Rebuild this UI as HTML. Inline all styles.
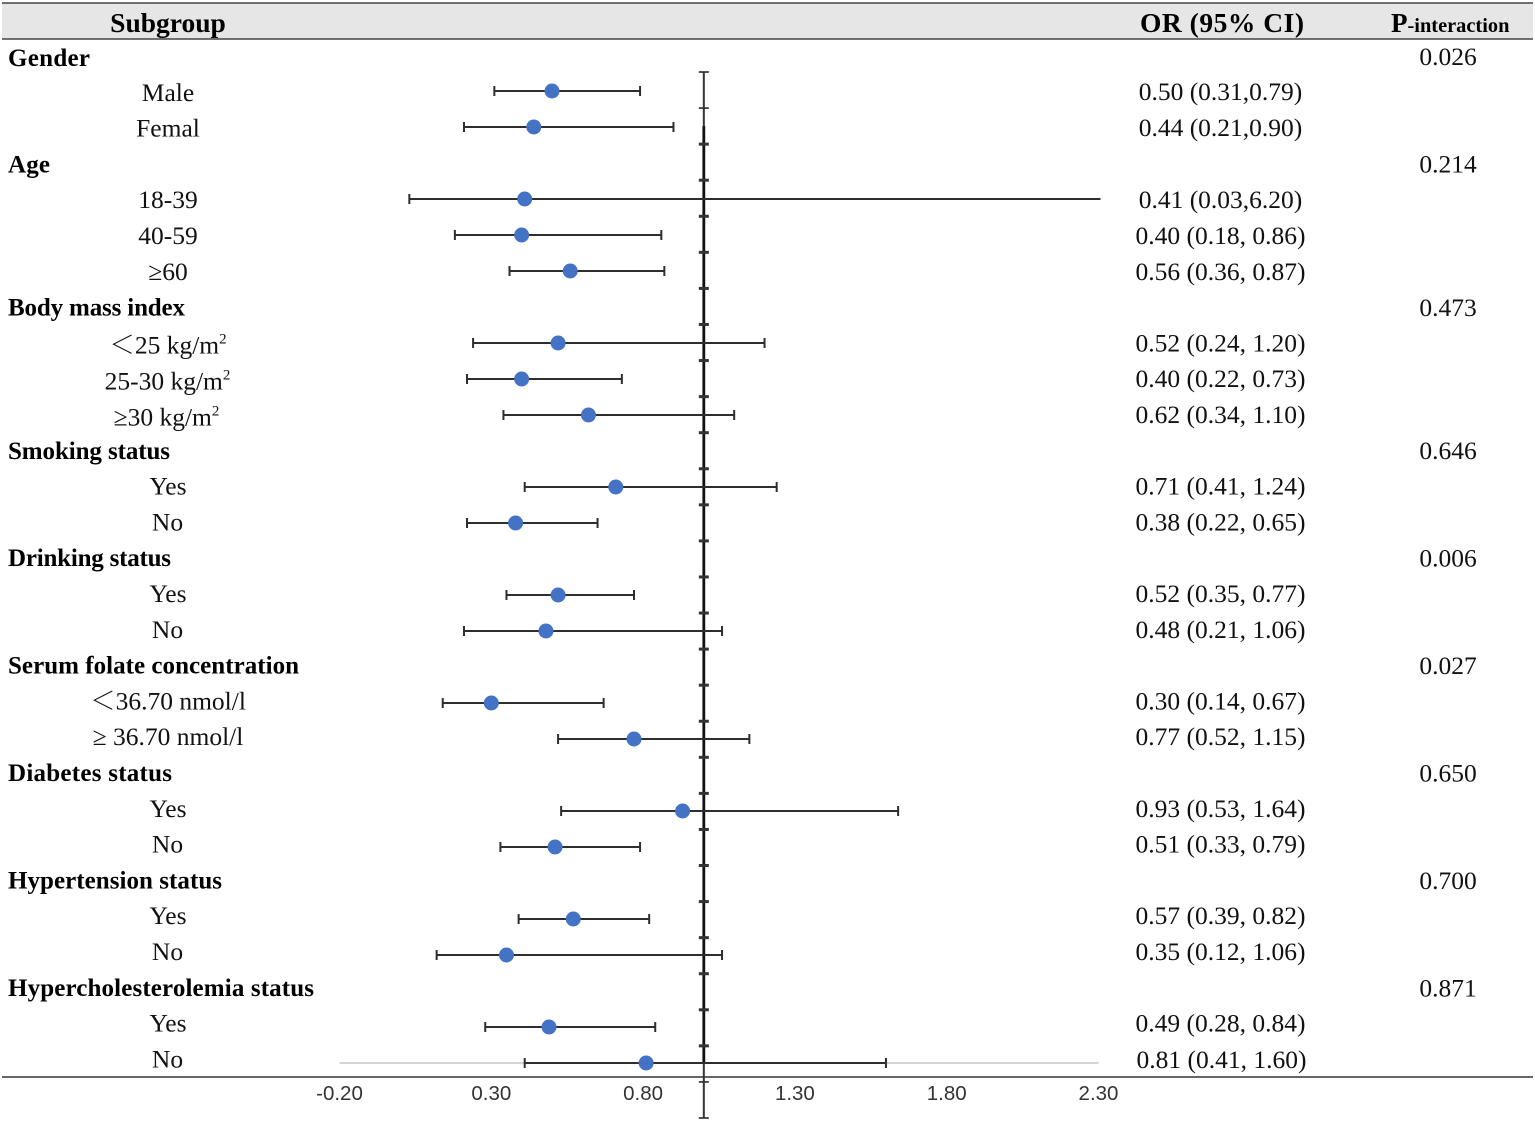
<!DOCTYPE html>
<html lang="en">
<head>
<meta charset="utf-8">
<title>Subgroup forest plot</title>
<style>
html,body{margin:0;padding:0;background:#fff;}
svg{display:block;}
text{font-family:"Liberation Serif","Noto Serif CJK SC",serif;fill:#111;font-size:25.5px;}
.g{font-weight:bold;font-size:25px;fill:#000;}
.s,.o,.p{text-anchor:middle;}
.hd{font-weight:bold;font-size:27.5px;fill:#000;}
.tick{font-family:"Liberation Sans",sans-serif;font-size:20.5px;fill:#333;text-anchor:middle;}
</style>
</head>
<body>
<svg id="chart" width="1535" height="1122" viewBox="0 0 1535 1122" xmlns="http://www.w3.org/2000/svg">
<rect x="2" y="3" width="1531" height="36" fill="#e6e6e6"/>
<line x1="2" x2="1533" y1="3" y2="3" stroke="#444" stroke-width="1.6"/>
<line x1="2" x2="1533" y1="39" y2="39" stroke="#444" stroke-width="1.4"/>
<line x1="2" x2="1533" y1="1077" y2="1077" stroke="#333" stroke-width="1.5"/>

<text class="hd" x="168" y="32" text-anchor="middle">Subgroup</text>
<text class="hd" x="1222" y="32" text-anchor="middle" textLength="164">OR (95% CI)</text>
<text x="1391" y="32" style="font-weight:bold;font-size:20.4px;fill:#000"><tspan style="font-size:27px">P</tspan>-interaction</text>

<g transform="translate(0,-1)">
<text class="g" x="8" y="67" textLength="82">Gender</text>
<text class="s" x="168" y="101.8">Male</text>
<text class="s" x="168" y="137.6">Femal</text>
<text class="g" x="8" y="173.4" textLength="42">Age</text>
<text class="s" x="168" y="209.2">18-39</text>
<text class="s" x="168" y="245">40-59</text>
<text class="s" x="168" y="280.8">≥60</text>
<text class="g" x="8" y="316.6" textLength="177">Body mass index</text>
<text class="s" x="168" y="354.5">＜25 kg/m<tspan dy="-10" style="font-size:15px">2</tspan></text>
<text class="s" x="167.5" y="390.5">25-30 kg/m<tspan dy="-10" style="font-size:15px">2</tspan></text>
<text class="s" x="166.5" y="426.5">≥30 kg/m<tspan dy="-10" style="font-size:15px">2</tspan></text>
<text class="g" x="8" y="459.8" textLength="162">Smoking status</text>
<text class="s" x="168" y="495.6">Yes</text>
<text class="s" x="167.5" y="531.4">No</text>
<text class="g" x="8" y="567.2" textLength="163">Drinking status</text>
<text class="s" x="168" y="603">Yes</text>
<text class="s" x="167.5" y="638.8">No</text>
<text class="g" x="8" y="674.6" textLength="291">Serum folate concentration</text>
<text class="s" x="168" y="710.4">＜36.70 nmol/l</text>
<text class="s" x="168" y="746.2">≥ 36.70 nmol/l</text>
<text class="g" x="8" y="782" textLength="164">Diabetes status</text>
<text class="s" x="168" y="817.8">Yes</text>
<text class="s" x="167.5" y="853.6">No</text>
<text class="g" x="8" y="889.4" textLength="214">Hypertension status</text>
<text class="s" x="168" y="925.2">Yes</text>
<text class="s" x="167.5" y="961">No</text>
<text class="g" x="8" y="996.8" textLength="306">Hypercholesterolemia status</text>
<text class="s" x="168" y="1032.6">Yes</text>
<text class="s" x="167.5" y="1068.4">No</text>
</g>

<g transform="translate(0,-1)">
<text class="o" x="1220.5" y="101">0.50 (0.31,0.79)</text>
<text class="o" x="1220.5" y="137">0.44 (0.21,0.90)</text>
<text class="o" x="1220.5" y="209">0.41 (0.03,6.20)</text>
<text class="o" x="1220.5" y="245">0.40 (0.18, 0.86)</text>
<text class="o" x="1220.5" y="280.8">0.56 (0.36, 0.87)</text>
<text class="o" x="1220.5" y="352.4">0.52 (0.24, 1.20)</text>
<text class="o" x="1220.5" y="388.2">0.40 (0.22, 0.73)</text>
<text class="o" x="1220.5" y="424">0.62 (0.34, 1.10)</text>
<text class="o" x="1220.5" y="495.6">0.71 (0.41, 1.24)</text>
<text class="o" x="1220.5" y="531.4">0.38 (0.22, 0.65)</text>
<text class="o" x="1220.5" y="603">0.52 (0.35, 0.77)</text>
<text class="o" x="1220.5" y="638.8">0.48 (0.21, 1.06)</text>
<text class="o" x="1220.5" y="710.4">0.30 (0.14, 0.67)</text>
<text class="o" x="1220.5" y="746.2">0.77 (0.52, 1.15)</text>
<text class="o" x="1220.5" y="817.8">0.93 (0.53, 1.64)</text>
<text class="o" x="1220.5" y="853.6">0.51 (0.33, 0.79)</text>
<text class="o" x="1220.5" y="925.2">0.57 (0.39, 0.82)</text>
<text class="o" x="1220.5" y="961">0.35 (0.12, 1.06)</text>
<text class="o" x="1220.5" y="1032.6">0.49 (0.28, 0.84)</text>
<text class="o" x="1221.5" y="1069">0.81 (0.41, 1.60)</text>
</g>

<g>
<text class="p" x="1448" y="65">0.026</text>
<text class="p" x="1448" y="172.5">0.214</text>
<text class="p" x="1448" y="316">0.473</text>
<text class="p" x="1448" y="459">0.646</text>
<text class="p" x="1448" y="566.5">0.006</text>
<text class="p" x="1448" y="674">0.027</text>
<text class="p" x="1448" y="781.5">0.650</text>
<text class="p" x="1448" y="889">0.700</text>
<text class="p" x="1448" y="996.5">0.871</text>
</g>

<g id="plot"></g>
</svg>

<script>
const subgroups = ["male","female","age-18-39","age-40-59","age-60-plus","bmi-under-25","bmi-25-30","bmi-30-plus","smoking-yes","smoking-no","drinking-yes","drinking-no","folate-low","folate-high","diabetes-yes","diabetes-no","hypertension-yes","hypertension-no","hypercholesterolemia-yes","hypercholesterolemia-no"];
const rowNumbers = [0,1,3,4,5,7,8,9,11,12,14,15,17,18,20,21,23,24,26,27];
const oddsRatios = [0.50,0.44,0.41,0.40,0.56,0.52,0.40,0.62,0.71,0.38,0.52,0.48,0.30,0.77,0.93,0.51,0.57,0.35,0.49,0.81];
const ciLow = [0.31,0.21,0.03,0.18,0.36,0.24,0.22,0.34,0.41,0.22,0.35,0.21,0.14,0.52,0.53,0.33,0.39,0.12,0.28,0.41];
const ciHigh = [0.79,0.90,6.20,0.86,0.87,1.20,0.73,1.10,1.24,0.65,0.77,1.06,0.67,1.15,1.64,0.79,0.82,1.06,0.84,1.60];
const xTicks = ["-0.20","0.30","0.80","1.30","1.80","2.30"];
const referenceValue = 1.0;
const referenceTickCount = 30;

const NS = "http://www.w3.org/2000/svg";
const plot = document.getElementById("plot");
const xMin = Number(xTicks[0]);
const xMax = Number(xTicks[xTicks.length - 1]);
function xScale(v){ return 339.5 + (v - xMin) / (xMax - xMin) * 759; }
function yTickScale(i){ return 72 + i * (1046 / (referenceTickCount - 1)); }
function yRowScale(r){ return 91 + r * 36; }
function make(tag, attrs){
  const el = document.createElementNS(NS, tag);
  for (const k in attrs) el.setAttribute(k, attrs[k]);
  plot.appendChild(el);
  return el;
}

const xBase = make("line", {x1:xScale(xMin), x2:xScale(xMax), y1:yRowScale(27), y2:yRowScale(27), stroke:"#d4d4d4", "stroke-width":2});



const xRef = xScale(referenceValue);
const refLine = make("line", {x1:xRef, x2:xRef, y1:yTickScale(0), y2:yTickScale(referenceTickCount - 1), stroke:"#333", "stroke-width":2});


const refThick = make("line", {x1:xRef, x2:xRef, y1:yTickScale(1.5), y2:yRowScale(27), stroke:"#111", "stroke-width":2.8});



for (let i = 0; i < referenceTickCount; i++) {
  const y = yTickScale(i);
  const t = make("line", {x1:xRef - 5, x2:xRef + 5, y1:y, y2:y, stroke:"#333", "stroke-width":(i < 2 || i > 27) ? 1.7 : 3});
  
  
}

subgroups.forEach(function(name, i){
  const y = yRowScale(rowNumbers[i]);
  const x0 = xScale(ciLow[i]);
  const clipped = ciHigh[i] > xMax;
  const x1 = clipped ? xScale(xMax) + 2 : xScale(ciHigh[i]);
  const line = make("line", {x1:x0, x2:x1, y1:y, y2:y, stroke:"#2e2e2e", "stroke-width":2});
  
  
  const capL = make("line", {x1:x0, x2:x0, y1:y - 5, y2:y + 5, stroke:"#2e2e2e", "stroke-width":2});
  
  
  if (!clipped) {
    const capH = make("line", {x1:x1, x2:x1, y1:y - 5, y2:y + 5, stroke:"#2e2e2e", "stroke-width":2});
    
    
  }
  const dot = make("circle", {cx:xScale(oddsRatios[i]), cy:y, r:7.5, fill:"#4472c4"});
  
  
});

xTicks.forEach(function(label){
  const t = make("text", {x:xScale(Number(label)), y:1100, "class":"tick"});
  t.textContent = label;
  
  
});
</script>
</body>
</html>
